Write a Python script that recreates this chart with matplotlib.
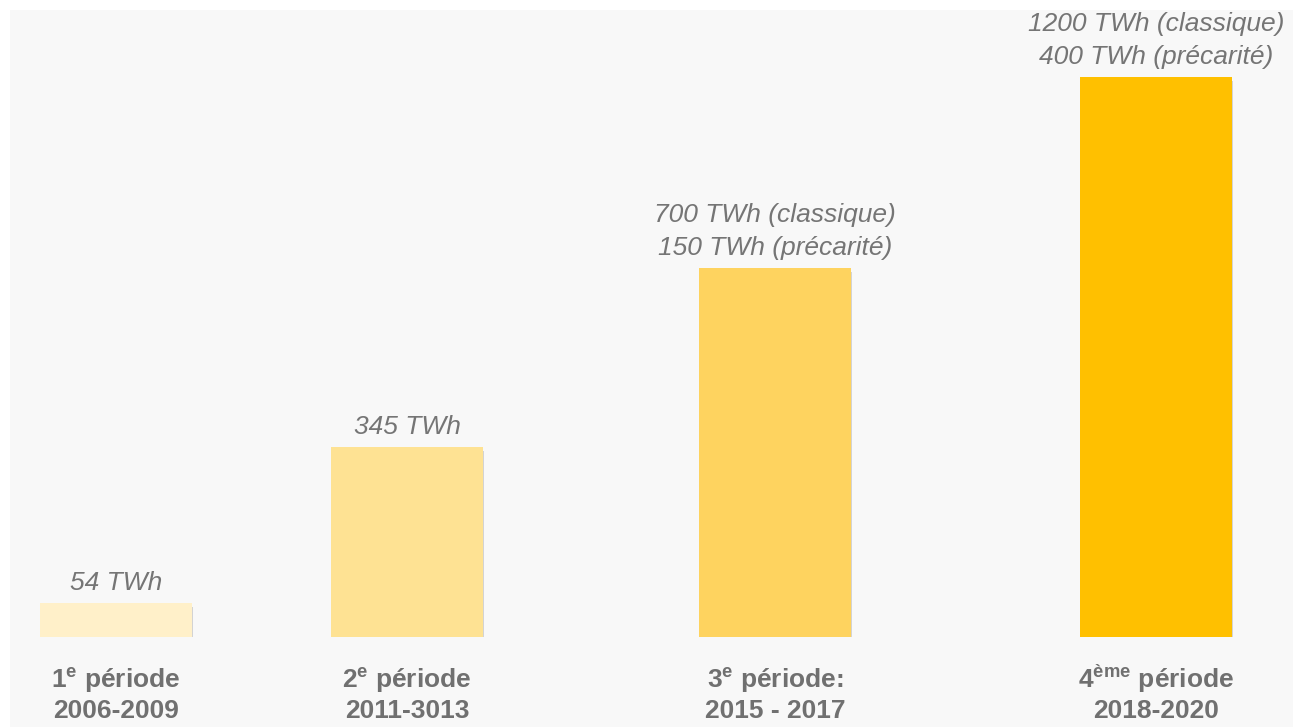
import matplotlib.pyplot as plt
from matplotlib import patheffects as pe
from matplotlib.patches import Rectangle

plt.rcParams['font.family'] = ['Liberation Sans', 'DejaVu Sans']
plt.rcParams['mathtext.fontset'] = 'custom'
plt.rcParams['mathtext.rm'] = 'Liberation Sans'
plt.rcParams['mathtext.bf'] = 'Liberation Sans:bold'

# periodes CEE
rank = ['1', '2', '3', '4']
suffix = ['e', 'e', 'e', 'ème']
period_word = ['période', 'période', 'période:', 'période']
years = ['2006-2009', '2011-3013', '2015 - 2017', '2018-2020']
# hauteurs (pas a l'echelle des TWh)
bar_levels = [34, 190, 369, 560]
value_labels = ['54 TWh',
                '345 TWh',
                '700 TWh (classique)\n150 TWh (précarité)',
                '1200 TWh (classique)\n400 TWh (précarité)']

bar_colors = ['#fff0c9', '#fee293', '#fed35f', '#ffc000']
text_grey = '#757575'

# mise en page
bar_x = [116, 407, 775, 1156]
bar_w = 152

fig = plt.figure(figsize=(12.93, 7.27), dpi=100)
fig.patch.set_facecolor('white')
fig.patches.append(Rectangle((10 / 1293, 0), 1, 717 / 727, transform=fig.transFigure,
                             facecolor='#f8f8f8', edgecolor='none', zorder=-10))

ax = fig.add_axes([0, 90 / 727, 1, 637 / 727])
ax.set_zorder(1)
ax.set_xlim(0, 1293)
ax.set_ylim(0, 637)
ax.axis('off')

bars = ax.bar(bar_x, bar_levels, width=bar_w, color=bar_colors, zorder=2)
for b in bars:
    b.set_path_effects([pe.SimplePatchShadow(offset=(1, -3), shadow_rgbFace='#000000', alpha=0.15),
                        pe.Normal()])

# etiquettes de valeur, ligne par ligne (la derniere juste au-dessus de la barre)
for x, h, lab in zip(bar_x, bar_levels, value_labels):
    lines = lab.split('\n')
    for i, line in enumerate(reversed(lines)):
        ax.annotate(line, (x, h), xytext=(0, 13 + 33 * i), textcoords='offset pixels',
                    ha='center', va='baseline', fontsize=19, style='italic',
                    color=text_grey, annotation_clip=False)

# noms des periodes sous les barres
for x, r, s, w, y in zip(bar_x, rank, suffix, period_word, years):
    top = '$\\mathbf{' + r + '^{' + s + '}}$ ' + w
    ax.annotate(top, (x, 0), xytext=(0, -51), textcoords='offset pixels',
                ha='center', va='baseline', fontsize=19, fontweight='bold',
                color='#707070', annotation_clip=False)
    ax.annotate(y, (x, 0), xytext=(0, -81), textcoords='offset pixels',
                ha='center', va='baseline', fontsize=19, fontweight='bold',
                color='#707070', annotation_clip=False)

plt.savefig('out.png', dpi=100, facecolor=fig.get_facecolor())
